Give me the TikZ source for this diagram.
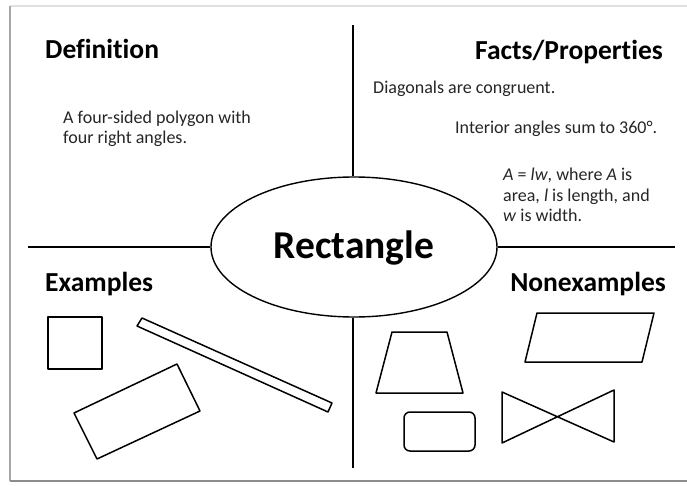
\documentclass[tikz,border=0pt]{standalone}
\usepackage{fontspec}
\setmainfont{Carlito}[Ligatures=NoCommon]
\usetikzlibrary{shapes.geometric}
\begin{document}
\begin{tikzpicture}
        [x=1pt, y=-1pt,
         title_style/.style={font=\fontsize{27.5}{30}\selectfont\bfseries, inner sep=0pt},
         text_style/.style={font=\fontsize{18}{20.5}\selectfont, inner sep=0pt, align=left, color=black!85},
         center_style/.style={ellipse, draw=black, line width=1.4pt, minimum width=286pt, minimum height=140pt, inner sep=0pt,
                              font=\fontsize{39.5}{40}\selectfont\bfseries},
         edge_style/.style={draw=black, line width=1.8pt},
         shape_style/.style={draw=black, line width=1.5pt, line join=round}]
            \useasboundingbox (0,0) rectangle (687,486);
            % card with its shadow
            \fill[white] (10,6) rectangle (687,481);
            \draw[black!12, line width=1.5pt] (10,6) -- (687,6);
            \draw[black!35, line width=2.5pt] (10,6) -- (10,481);
            \draw[black!45, line width=2.5pt] (10,481) -- (687,481);
            % centre
            \node[center_style] (v0) at (354, 247) {\raisebox{-12pt}[0pt][0pt]{Rectangle}};
            \coordinate (n) at (353, 25);
            \coordinate (s) at (353, 468);
            \coordinate (w) at (28, 247);
            \coordinate (e) at (675, 247);
            \draw[edge_style]  (n) -- (v0.north -| n);
            \draw[edge_style]  (v0.south -| s) -- (s);
            \draw[edge_style]  (w) -- (v0.west);
            \draw[edge_style]  (v0.east) -- (e);
            % headings
            \node[title_style, anchor=base west] (v1) at (45, 59)  {Definition};
            \node[title_style, anchor=base east] (v2) at (663, 60)  {Facts/Properties};
            \node[title_style, anchor=base west] (v3) at (45, 291)  {Examples};
            \node[title_style, anchor=base east] (v4) at (666, 291)  {Nonexamples};
            % texts (base = last line)
            \node[text_style, anchor=base west] (t1) at (63, 144) {A four-sided polygon with\\four right angles.};
            \node[text_style, anchor=base west] (t2) at (373, 94) {Diagonals are congruent.};
            \node[text_style, anchor=base west] (t3) at (455, 134) {Interior angles sum to 360°.};
            \node[text_style, anchor=base west] (t4) at (503, 222)
                 {\textit{A} = \textit{lw}, where \textit{A} is\\area, \textit{l} is length, and\\\textit{w} is width.};
            % examples
            \draw[shape_style] (48,317) rectangle (102,369);
            \draw[shape_style] (142,318) -- (332,403) -- (328,412) -- (137,326) -- cycle;
            \draw[shape_style] (74,413) -- (177,364) -- (200,411) -- (97,459) -- cycle;
            % nonexamples
            \draw[shape_style] (392,332) -- (447,332) -- (463,393) -- (376,393) -- cycle;
            \draw[shape_style] (537,313) -- (654,313) -- (642,362) -- (525,362) -- cycle;
            \draw[shape_style, rounded corners=6pt] (404,412) rectangle (475,451);
            \draw[shape_style] (502,392) -- (614,442) -- (614,390) -- (502,443) -- cycle;
        \end{tikzpicture}
\end{document}
